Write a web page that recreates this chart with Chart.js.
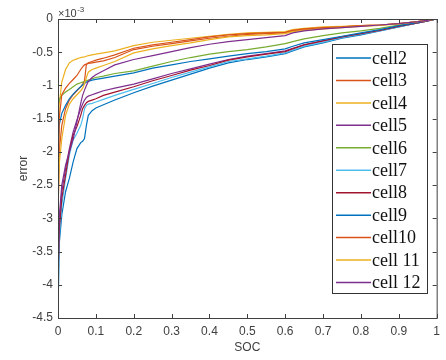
<!DOCTYPE html>
<html>
<head>
<meta charset="utf-8">
<script src="https://cdn.jsdelivr.net/npm/chart.js@4.4.0/dist/chart.umd.min.js"></script>
<style>
html,body{margin:0;padding:0;background:#fff;}
#wrap{width:446px;height:360px;position:relative;}
</style>
</head>
<body>
<div id="wrap"><canvas id="c" width="446" height="360"></canvas></div>
<script>
// SOC grid (x values)
const soc = [0, 0.003, 0.01, 0.02, 0.03, 0.04, 0.05, 0.06, 0.065, 0.07, 0.075, 0.08, 0.09, 0.1, 0.12, 0.15, 0.2, 0.25, 0.3, 0.35, 0.4, 0.45, 0.5, 0.55, 0.6, 0.62, 0.65, 0.7, 0.75, 0.8, 0.85, 0.9, 0.95, 0.97, 1.0];

// error values (x 10^-3)
const cell2  = [-4.5, -3.4, -2.95, -2.6, -2.4, -2.15, -1.95, -1.86, -1.84, -1.8, -1.6, -1.45, -1.38, -1.34, -1.29, -1.22, -1.11, -1.01, -0.92, -0.83, -0.74, -0.66, -0.61, -0.57, -0.52, -0.48, -0.42, -0.36, -0.29, -0.24, -0.18, -0.12, -0.06, -0.035, 0];
const cell3  = [-3.0, -2.0, -1.6, -1.35, -1.22, -1.14, -1.08, -1.02, -0.98, -0.93, -0.68, -0.67, -0.66, -0.65, -0.63, -0.58, -0.46, -0.41, -0.37, -0.33, -0.29, -0.26, -0.23, -0.22, -0.21, -0.18, -0.16, -0.14, -0.12, -0.1, -0.09, -0.07, -0.04, -0.025, 0];
const cell4  = [-2.9, -1.3, -0.95, -0.76, -0.66, -0.62, -0.6, -0.58, -0.575, -0.57, -0.56, -0.55, -0.54, -0.53, -0.51, -0.48, -0.4, -0.35, -0.32, -0.29, -0.26, -0.23, -0.21, -0.2, -0.19, -0.16, -0.14, -0.12, -0.11, -0.1, -0.09, -0.07, -0.04, -0.025, 0];
const cell5  = [-4.2, -3.1, -2.6, -2.25, -1.95, -1.7, -1.52, -1.35, -1.28, -1.22, -1.18, -1.16, -1.14, -1.12, -1.08, -1.04, -0.98, -0.9, -0.82, -0.75, -0.68, -0.61, -0.56, -0.52, -0.48, -0.44, -0.39, -0.33, -0.27, -0.22, -0.17, -0.11, -0.06, -0.035, 0];
const cell6  = [-1.3, -1.22, -1.15, -1.1, -1.06, -1.02, -0.98, -0.96, -0.95, -0.94, -0.93, -0.92, -0.9, -0.88, -0.86, -0.82, -0.78, -0.71, -0.64, -0.58, -0.53, -0.49, -0.46, -0.42, -0.37, -0.34, -0.3, -0.25, -0.21, -0.18, -0.14, -0.09, -0.05, -0.03, 0];
const cell7  = [-4.5, -3.3, -2.8, -2.4, -2.05, -1.82, -1.72, -1.6, -1.5, -1.35, -1.3, -1.28, -1.27, -1.25, -1.21, -1.15, -1.06, -0.97, -0.88, -0.8, -0.72, -0.64, -0.6, -0.56, -0.51, -0.47, -0.41, -0.35, -0.28, -0.23, -0.18, -0.12, -0.06, -0.035, 0];
const cell8  = [-3.9, -3.2, -2.7, -2.35, -2.0, -1.75, -1.62, -1.45, -1.35, -1.3, -1.26, -1.24, -1.22, -1.2, -1.15, -1.1, -1.02, -0.93, -0.85, -0.77, -0.7, -0.62, -0.57, -0.53, -0.49, -0.45, -0.39, -0.33, -0.27, -0.22, -0.17, -0.11, -0.06, -0.035, 0];
const cell9  = [-1.9, -1.6, -1.42, -1.3, -1.2, -1.13, -1.07, -1.02, -0.99, -0.97, -0.95, -0.94, -0.92, -0.91, -0.89, -0.86, -0.81, -0.74, -0.69, -0.64, -0.6, -0.56, -0.52, -0.49, -0.45, -0.41, -0.36, -0.31, -0.26, -0.21, -0.16, -0.1, -0.05, -0.03, 0];
const cell10 = [-3.45, -1.5, -1.14, -1.04, -0.97, -0.91, -0.85, -0.76, -0.72, -0.69, -0.68, -0.66, -0.64, -0.62, -0.59, -0.54, -0.44, -0.39, -0.35, -0.31, -0.27, -0.24, -0.22, -0.21, -0.2, -0.17, -0.15, -0.13, -0.12, -0.1, -0.09, -0.07, -0.04, -0.025, 0];
const cell11 = [-2.9, -2.2, -1.8, -1.45, -1.28, -1.2, -1.14, -1.08, -1.04, -0.98, -0.88, -0.8, -0.76, -0.74, -0.7, -0.64, -0.51, -0.45, -0.4, -0.36, -0.31, -0.27, -0.25, -0.24, -0.22, -0.19, -0.17, -0.15, -0.13, -0.11, -0.095, -0.075, -0.04, -0.025, 0];
const cell12 = [-4.0, -3.0, -2.5, -2.2, -2.0, -1.81, -1.55, -1.27, -1.15, -1.07, -1.0, -0.94, -0.88, -0.84, -0.78, -0.69, -0.61, -0.55, -0.49, -0.43, -0.38, -0.34, -0.31, -0.28, -0.25, -0.21, -0.18, -0.15, -0.13, -0.11, -0.09, -0.07, -0.04, -0.025, 0];

const seriesNames = ['cell2', 'cell3', 'cell4', 'cell5', 'cell6', 'cell7', 'cell8', 'cell9', 'cell10', 'cell 11', 'cell 12'];
const seriesValues = [cell2, cell3, cell4, cell5, cell6, cell7, cell8, cell9, cell10, cell11, cell12];
const xTickStep = 0.1;
const yTickStep = 0.5;
const yExponentLabel = ['\u00d710', '-3'];

const palette = ['#0072BD', '#D95319', '#EDB120', '#7E2F8E', '#77AC30', '#4DBEEE', '#A2142F'];

const datasets = seriesValues.map((vals, i) => ({
  label: seriesNames[i],
  data: vals.map((v, k) => ({x: soc[k], y: v})),
  borderColor: palette[i % palette.length],
  backgroundColor: palette[i % palette.length],
  borderWidth: 1.2,
  pointRadius: 0,
  fill: false,
  tension: 0,
  order: seriesValues.length - i
}));

const AXIS = '#404040';

const boxPlugin = {
  id: 'matlabBox',
  afterDatasetsDraw(chart) {
    const {ctx, chartArea: a, scales} = chart;
    ctx.save();
    ctx.strokeStyle = AXIS;
    ctx.lineWidth = 1;
    ctx.strokeRect(a.left + 0.5, a.top + 0.5, a.right - a.left, a.bottom - a.top);
    const tl = 4;
    ctx.beginPath();
    scales.x.ticks.forEach(t => {
      const px = Math.round(scales.x.getPixelForValue(t.value)) + 0.5;
      ctx.moveTo(px, a.bottom); ctx.lineTo(px, a.bottom - tl);
      ctx.moveTo(px, a.top); ctx.lineTo(px, a.top + tl);
    });
    scales.y.ticks.forEach(t => {
      const py = Math.round(scales.y.getPixelForValue(t.value)) + 0.5;
      ctx.moveTo(a.left, py); ctx.lineTo(a.left + tl, py);
      ctx.moveTo(a.right, py); ctx.lineTo(a.right - tl, py);
    });
    ctx.stroke();

    // exponent label
    ctx.fillStyle = AXIS;
    ctx.textBaseline = 'alphabetic';
    ctx.textAlign = 'left';
    ctx.font = '11px "Liberation Sans", Arial, sans-serif';
    ctx.fillText(yExponentLabel[0], a.left, a.top - 2.5);
    const w = ctx.measureText(yExponentLabel[0]).width;
    ctx.font = '8px "Liberation Sans", Arial, sans-serif';
    ctx.fillText(yExponentLabel[1], a.left + w + 0.5, a.top - 7);

    // legend
    const lx = 332, ly = 44, lw = 95, lh = 249;
    ctx.fillStyle = '#fff';
    ctx.fillRect(lx, ly, lw, lh);
    ctx.strokeStyle = '#333';
    ctx.strokeRect(lx + 0.5, ly + 0.5, lw, lh);
    ctx.font = '18px "Liberation Serif", "Times New Roman", serif';
    ctx.textBaseline = 'middle';
    chart.data.datasets.forEach((ds, i) => {
      const cy = ly + 14 + i * 22.45;
      ctx.strokeStyle = ds.borderColor;
      ctx.lineWidth = 1.5;
      ctx.beginPath();
      ctx.moveTo(336, cy);
      ctx.lineTo(371, cy);
      ctx.stroke();
      ctx.fillStyle = '#111';
      ctx.fillText(ds.label, 372, cy + 1);
    });
    ctx.restore();
  }
};

Chart.defaults.font.family = '"Liberation Sans", Arial, sans-serif';
Chart.defaults.font.size = 12;
Chart.defaults.color = AXIS;

new Chart(document.getElementById('c'), {
  type: 'line',
  data: {datasets},
  options: {
    responsive: false,
    animation: false,
    layout: {padding: {top: 19, right: 8, left: 0, bottom: 0}},
    plugins: {legend: {display: false}, tooltip: {enabled: false}},
    scales: {
      x: {
        type: 'linear', min: 0, max: 1,
        ticks: {stepSize: xTickStep, padding: 6, maxRotation: 0, autoSkip: false,
          callback: v => String(Math.round(v * 10) / 10)},
        grid: {display: false, drawTicks: false},
        border: {display: false},
        title: {display: true, text: 'SOC', font: {size: 12, lineHeight: 1.2}, padding: {top: 0, bottom: 5}},
        afterFit: s => { s.height = 42; }
      },
      y: {
        type: 'linear', min: -4.5, max: 0,
        ticks: {stepSize: yTickStep, padding: 5,
          callback: v => String(Math.round(v * 10) / 10)},
        grid: {display: false, drawTicks: false},
        border: {display: false},
        title: {display: true, text: 'error', font: {size: 12, lineHeight: 1.2}, padding: {top: 16, bottom: 0}},
        afterFit: s => { s.width = 58; }
      }
    }
  },
  plugins: [boxPlugin]
});
</script>
</body>
</html>
